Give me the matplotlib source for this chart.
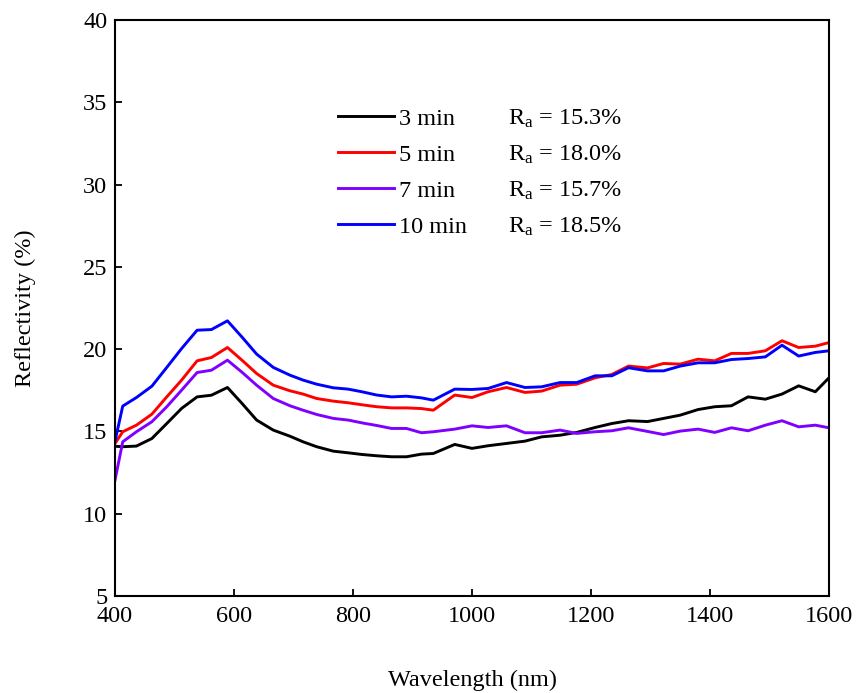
import matplotlib
matplotlib.use("Agg")
import matplotlib.pyplot as plt

plt.rcParams['font.family'] = ['Liberation Serif', 'DejaVu Serif']
plt.rcParams['mathtext.fontset'] = 'custom'
plt.rcParams['mathtext.rm'] = 'Liberation Serif'
plt.rcParams['mathtext.it'] = 'Liberation Serif:italic'

wavelength = [400, 413, 436, 462, 487, 512, 538, 562, 589, 614, 638, 666, 694, 716,
              739, 767, 792, 815, 840, 865, 890, 915, 935, 971, 1000, 1027, 1058,
              1089, 1117, 1148, 1176, 1207, 1235, 1263, 1295, 1322, 1350, 1380,
              1408, 1436, 1464, 1493, 1521, 1549, 1577, 1600]

r_3min = [14.1, 14.07, 14.11, 14.57, 15.48, 16.4, 17.1, 17.2, 17.67, 16.68, 15.69,
          15.08, 14.71, 14.37, 14.07, 13.8, 13.7, 13.6, 13.52, 13.46, 13.46, 13.62,
          13.66, 14.21, 13.97, 14.13, 14.27, 14.41, 14.67, 14.77, 14.94, 15.24,
          15.48, 15.65, 15.6, 15.79, 15.99, 16.33, 16.5, 16.56, 17.1, 16.96,
          17.27, 17.77, 17.41, 18.26]

r_5min = [14.27, 14.98, 15.38, 16.05, 17.1, 18.12, 19.29, 19.49, 20.1, 19.31, 18.52,
          17.81, 17.47, 17.27, 17.0, 16.84, 16.74, 16.62, 16.5, 16.43, 16.43, 16.39,
          16.29, 17.21, 17.06, 17.41, 17.67, 17.37, 17.45, 17.81, 17.87, 18.26,
          18.46, 18.97, 18.86, 19.13, 19.09, 19.39, 19.29, 19.74, 19.74, 19.9,
          20.51, 20.1, 20.18, 20.4]

r_7min = [12.04, 14.37, 14.98, 15.59, 16.5, 17.51, 18.58, 18.72, 19.33, 18.58, 17.81,
          17.0, 16.56, 16.29, 16.03, 15.79, 15.69, 15.52, 15.36, 15.18, 15.18, 14.92,
          14.98, 15.14, 15.34, 15.24, 15.34, 14.92, 14.92, 15.08, 14.88, 14.98,
          15.04, 15.22, 15.0, 14.81, 15.02, 15.14, 14.94, 15.22, 15.04, 15.38,
          15.65, 15.28, 15.38, 15.22]

r_10min = [14.4, 16.54, 17.06, 17.75, 18.89, 20.04, 21.15, 21.19, 21.72, 20.71, 19.7,
           18.89, 18.42, 18.12, 17.87, 17.65, 17.57, 17.41, 17.21, 17.1, 17.14, 17.04,
           16.9, 17.57, 17.55, 17.61, 17.97, 17.67, 17.71, 17.97, 17.97, 18.38,
           18.38, 18.87, 18.68, 18.68, 18.97, 19.17, 19.17, 19.37, 19.43, 19.53,
           20.24, 19.58, 19.8, 19.9]

labels = ['3 min', '5 min', '7 min', '10 min']
ra_labels = ['15.3%', '18.0%', '15.7%', '18.5%']
colors = ['#000000', '#ff0000', '#8000ff', '#0000ff']
series = [r_3min, r_5min, r_7min, r_10min]

fig = plt.figure(figsize=(8.57, 6.93), dpi=100)
ax = fig.add_axes([115/857, 1-596/693, (829-115)/857, (596-20)/693])

lines = []
for s, c, lab in zip(series, colors, labels):
    ln, = ax.plot(wavelength, s, color=c, lw=2.1, label=lab)
    lines.append(ln)

ax.set_xlim(400, 1600)
ax.set_ylim(5, 40)
ax.set_xticks(range(400, 1601, 200))
ax.set_yticks(range(5, 41, 5))
ax.tick_params(direction='in', length=5, width=1.3, labelsize=17.5, pad=7)
ax.tick_params(axis='y', pad=5.5)
for sp in ax.spines.values():
    sp.set_linewidth(1.5)

ax.set_xlabel('Wavelength (nm)', fontsize=17.5, labelpad=31)
ax.set_ylabel('Reflectivity (%)', fontsize=17.5, labelpad=34)

leg = ax.legend(handles=lines, labels=labels, frameon=False, fontsize=17.5,
                loc='upper left', bbox_to_anchor=(0.312, 0.848),
                borderaxespad=0, borderpad=0, handlelength=2.3,
                handletextpad=0.2, labelspacing=0.58)

fig.canvas.draw()
renderer = fig.canvas.get_renderer()
inv = ax.transAxes.inverted()
for txt, ra in zip(leg.get_texts(), ra_labels):
    bb, info, descent = txt._get_layout(renderer)
    ext = txt.get_window_extent(renderer)
    base_y = ext.y0 + descent
    _, ya = inv.transform((ext.x0, base_y))
    ax.text(0.551, ya, r'R$_\mathregular{a}$ = ' + ra, transform=ax.transAxes,
            va='baseline', ha='left', fontsize=17.5)

fig.savefig('out.png', dpi=100)
